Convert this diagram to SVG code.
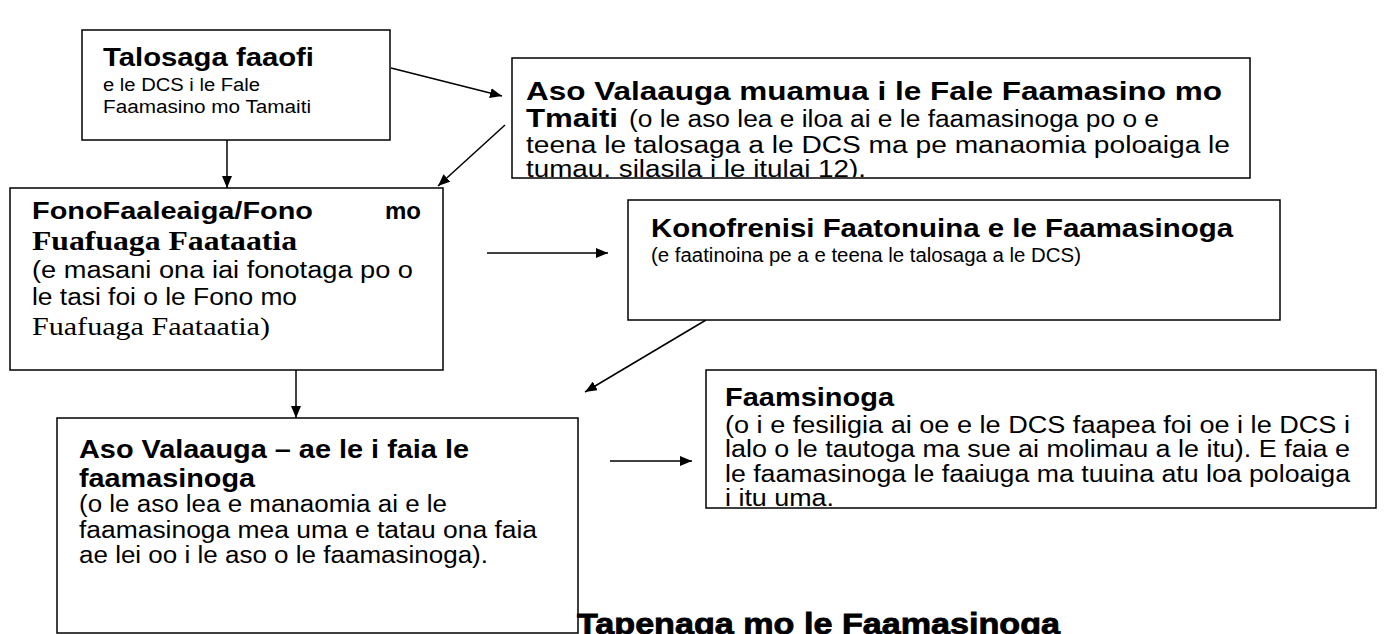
<svg xmlns="http://www.w3.org/2000/svg" width="1384" height="634" viewBox="0 0 1384 634">
<style>
.box{fill:#fff;stroke:#000;stroke-width:1.5}
.c{stroke:#000;stroke-width:1.5;fill:none;marker-end:url(#ah)}
text{font-family:"Liberation Sans",Arial,sans-serif;fill:#000}
.b{font-weight:bold}
.s{font-family:"Liberation Serif","Times New Roman",serif}
</style>
<defs>
<marker id="ah" viewBox="0 0 12 10" refX="12" refY="5" markerWidth="12" markerHeight="10" markerUnits="userSpaceOnUse" orient="auto">
<path d="M0,0 L12,5 L0,10 Z" fill="#000"/>
</marker>
<clipPath id="cl2"><rect x="512" y="58" width="738" height="119"/></clipPath>
</defs>
<rect width="1384" height="634" fill="#fff"/>
<g id="connectors">
<line class="c" x1="391" y1="68" x2="502" y2="96"/>
<line class="c" x1="227" y1="140" x2="227" y2="188"/>
<line class="c" x1="505" y1="125" x2="438" y2="186"/>
<line class="c" x1="487" y1="253" x2="608" y2="253"/>
<line class="c" x1="706" y1="320" x2="585" y2="392"/>
<line class="c" x1="296" y1="370" x2="296" y2="418"/>
<line class="c" x1="610" y1="461" x2="692" y2="461"/>
</g>
<g id="n1">
<rect class="box" x="82" y="30" width="308" height="110"/>
<text class="b" x="103" y="66" font-size="25" textLength="211" lengthAdjust="spacingAndGlyphs">Talosaga faaofi</text>
<text x="103" y="91" font-size="18" textLength="157" lengthAdjust="spacingAndGlyphs">e le DCS i le Fale</text>
<text x="103" y="113" font-size="18" textLength="208" lengthAdjust="spacingAndGlyphs">Faamasino mo Tamaiti</text>
</g>
<g id="n2">
<rect class="box" x="512" y="58" width="738" height="120"/>
<g clip-path="url(#cl2)">
<text class="b" x="526" y="100" font-size="25" textLength="696" lengthAdjust="spacingAndGlyphs">Aso Valaauga muamua i le Fale Faamasino mo</text>
<text class="b" x="526" y="127" font-size="25" textLength="92" lengthAdjust="spacingAndGlyphs">Tmaiti</text>
<text x="629" y="127" font-size="23" textLength="530" lengthAdjust="spacingAndGlyphs">(o le aso lea e iloa ai e le faamasinoga po o e</text>
<text x="526" y="153" font-size="23" textLength="704" lengthAdjust="spacingAndGlyphs">teena le talosaga a le DCS ma pe manaomia poloaiga le</text>
<text x="526" y="177" font-size="23" textLength="340" lengthAdjust="spacingAndGlyphs">tumau, silasila i le itulai 12).</text>
</g>
</g>
<g id="n3">
<rect class="box" x="10" y="188" width="433" height="182"/>
<text class="b" x="32" y="219" font-size="24" textLength="281" lengthAdjust="spacingAndGlyphs">FonoFaaleaiga/Fono</text>
<text class="b" x="421" y="219" font-size="24" text-anchor="end">mo</text>
<text class="b s" x="32" y="250" font-size="27" textLength="265" lengthAdjust="spacingAndGlyphs">Fuafuaga Faataatia</text>
<text x="32" y="278" font-size="23" textLength="381" lengthAdjust="spacingAndGlyphs">(e masani ona iai fonotaga po o</text>
<text x="32" y="305" font-size="23" textLength="265" lengthAdjust="spacingAndGlyphs">le tasi foi o le Fono mo</text>
<text class="s" x="32" y="335" font-size="25" textLength="238" lengthAdjust="spacingAndGlyphs">Fuafuaga Faataatia)</text>
</g>
<g id="n4">
<rect class="box" x="628" y="200" width="652" height="120"/>
<text class="b" x="651" y="237" font-size="25" textLength="582" lengthAdjust="spacingAndGlyphs">Konofrenisi Faatonuina e le Faamasinoga</text>
<text x="651" y="262" font-size="20" textLength="430" lengthAdjust="spacingAndGlyphs">(e faatinoina pe a e teena le talosaga a le DCS)</text>
</g>
<g id="n5">
<rect class="box" x="57" y="418" width="521" height="215"/>
<text class="b" x="79" y="458" font-size="25" textLength="390" lengthAdjust="spacingAndGlyphs">Aso Valaauga – ae le i faia le</text>
<text class="b" x="79" y="487" font-size="25" textLength="176" lengthAdjust="spacingAndGlyphs">faamasinoga</text>
<text x="79" y="512" font-size="23" textLength="368" lengthAdjust="spacingAndGlyphs">(o le aso lea e manaomia ai e le</text>
<text x="79" y="538" font-size="23" textLength="458" lengthAdjust="spacingAndGlyphs">faamasinoga mea uma e tatau ona faia</text>
<text x="79" y="563" font-size="23" textLength="409" lengthAdjust="spacingAndGlyphs">ae lei oo i le aso o le faamasinoga).</text>
</g>
<g id="n6">
<rect class="box" x="706" y="370" width="670" height="138"/>
<text class="b" x="725" y="406" font-size="25" textLength="169" lengthAdjust="spacingAndGlyphs">Faamsinoga</text>
<text x="725" y="433" font-size="23" textLength="625" lengthAdjust="spacingAndGlyphs">(o i e fesiligia ai oe e le DCS faapea foi oe i le DCS i</text>
<text x="725" y="457" font-size="23" textLength="625" lengthAdjust="spacingAndGlyphs">lalo o le tautoga ma sue ai molimau a le itu). E faia e</text>
<text x="725" y="482" font-size="23" textLength="625" lengthAdjust="spacingAndGlyphs">le faamasinoga le faaiuga ma tuuina atu loa poloaiga</text>
<text x="725" y="506" font-size="23" textLength="109" lengthAdjust="spacingAndGlyphs">i itu uma.</text>
</g>
<g id="title">
<text class="b" x="577" y="634" font-size="29" stroke="#000" stroke-width="0.8" textLength="483" lengthAdjust="spacingAndGlyphs">Tapenaga mo le Faamasinoga</text>
</g>
</svg>
